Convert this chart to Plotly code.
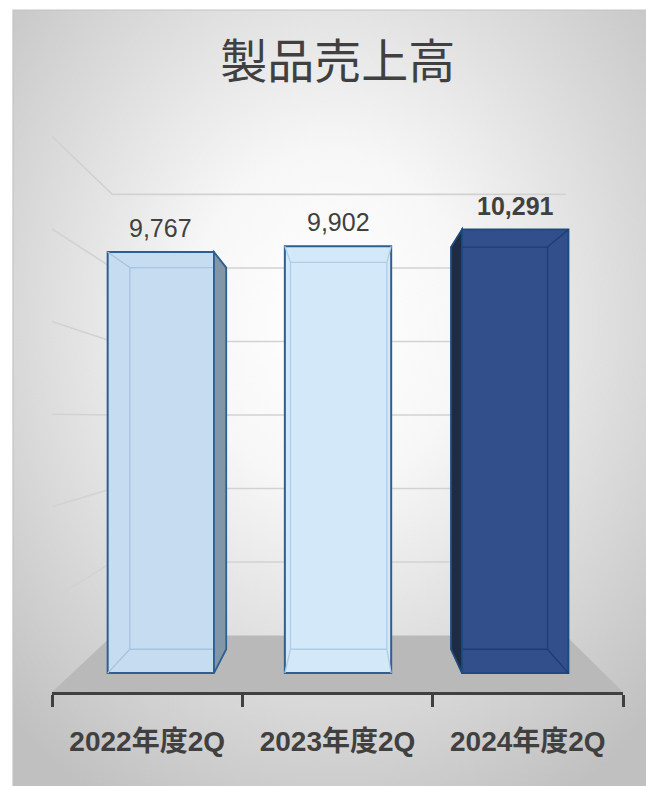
import base64
import plotly.graph_objects as go

# ---------------- data ----------------
categories = ["2022年度2Q", "2023年度2Q", "2024年度2Q"]
values = [9767, 9902, 10291]
value_labels = ["9,767", "9,902", "10,291"]
label_bold = [False, False, True]
grid_values = [2000, 4000, 6000, 8000, 10000, 12000]
title_text = "製品売上高"

# ---------------- styling / perspective model ----------------
W, H = 646, 786
VX, VY = 345.0, 418.0          # vanishing point (px)
X_LEFT, X_RIGHT = 52.0, 623.0  # front edge of the floor (px)
Y_ZERO = 692.0                 # front edge of floor = value 0 (px)
K = 46.3 / 1000.0              # px per value unit at depth scale 1
S_FRONT, S_BACK, S_WALL = 0.931, 0.844, 0.794
BAR_W = 0.6
N = len(categories)
CW = (X_RIGHT - X_LEFT) / N

face_colors = ["#c6ddf1", "#d3e8f8", "#324f8b"]
edge_colors = ["#2f5f8f", "#2f5f8f", "#1f4a80"]
inner_colors = ["#a6c4e0", "#aecde6", "#1d3c76"]
side_colors = ["#8196a6", "#8196a6", "#1f2b44"]
TXT = "#404040"
NARROW = "Liberation Sans Narrow, Arial Narrow, Liberation Sans, Noto Sans CJK JP, sans-serif"


def proj(c, v, s):
    x1 = X_LEFT + (c + 0.5) * CW
    y1 = Y_ZERO - v * K
    return VX + (x1 - VX) * s, VY + (y1 - VY) * s


def pp(pt):
    return f"{pt[0] / W:.5f},{1 - pt[1] / H:.5f}"


def poly(pts, close=True):
    d = "M " + " L ".join(pp(p) for p in pts)
    return d + (" Z" if close else "")


shapes = []

# panel background (gradient image below) + border
svg = (
    '<svg xmlns="http://www.w3.org/2000/svg" width="640" height="780">'
    '<defs><radialGradient id="g" cx="0.5" cy="0.4" r="0.72">'
    '<stop offset="0" stop-color="#ffffff"/>'
    '<stop offset="0.3" stop-color="#f7f7f7"/>'
    '<stop offset="1" stop-color="#c0c0c0"/>'
    '</radialGradient></defs>'
    '<rect width="640" height="780" fill="url(#g)"/></svg>'
)
svg_uri = "data:image/svg+xml;base64," + base64.b64encode(svg.encode()).decode()
PX0, PY0 = 13.0, 10.0
images = [dict(source=svg_uri, xref="paper", yref="paper",
               x=PX0 / W, y=1 - PY0 / H, sizex=(W - PX0) / W, sizey=(H - PY0) / H,
               xanchor="left", yanchor="top", sizing="stretch", layer="below")]
shapes.append(dict(type="rect", xref="paper", yref="paper", layer="below",
                   x0=PX0 / W, x1=1.02, y0=-0.02, y1=1 - PY0 / H,
                   line=dict(color="#c4c4c4", width=1.2), fillcolor="rgba(0,0,0,0)"))

# floor
floor = [proj(-0.5, 0, 1), proj(N - 0.5, 0, 1), proj(N - 0.5, 0, S_WALL), proj(-0.5, 0, S_WALL)]
shapes.append(dict(type="path", xref="paper", yref="paper", layer="below",
                   path=poly(floor), fillcolor="#b9b9b9", line=dict(width=0)))

# gridlines on back wall and left wall
for v in grid_values:
    a = proj(-0.5, v, 1)
    b = proj(-0.5, v, S_WALL)
    c = proj(N - 0.5, v, S_WALL)
    shapes.append(dict(type="path", xref="paper", yref="paper", layer="below",
                       path=poly([a, b, c], close=False),
                       line=dict(color="#d2d2d2", width=1.6)))

# bar depth details
above = []
for i, v in enumerate(values):
    l, r = i - BAR_W / 2, i + BAR_W / 2
    fl_t, fr_t = proj(l, v, S_FRONT), proj(r, v, S_FRONT)
    fl_b, fr_b = proj(l, 0, S_FRONT), proj(r, 0, S_FRONT)
    bl_t, br_t = proj(l, v, S_BACK), proj(r, v, S_BACK)
    bl_b, br_b = proj(l, 0, S_BACK), proj(r, 0, S_BACK)
    ic = inner_colors[i]
    for seg in ([bl_t, br_t], [bl_b, br_b], [bl_t, bl_b], [br_t, br_b],
                [fl_t, bl_t], [fr_t, br_t], [fl_b, bl_b], [fr_b, br_b]):
        above.append(dict(type="path", xref="paper", yref="paper", layer="above",
                          path=poly(seg, close=False), line=dict(color=ic, width=1.3)))
    if bl_t[0] < fl_t[0]:
        above.append(dict(type="path", xref="paper", yref="paper", layer="above",
                          path=poly([fl_t, bl_t, bl_b, fl_b]), fillcolor=side_colors[i],
                          line=dict(color=edge_colors[i], width=1.8)))
    if br_t[0] > fr_t[0]:
        above.append(dict(type="path", xref="paper", yref="paper", layer="above",
                          path=poly([fr_t, br_t, br_b, fr_b]), fillcolor=side_colors[i],
                          line=dict(color=edge_colors[i], width=1.8)))
shapes += above

# axis domains
fx0 = proj(-0.5, 0, S_FRONT)[0] / W
fx1 = proj(N - 0.5, 0, S_FRONT)[0] / W


def v_at(py, s):
    y1 = VY + (py - VY) / s
    return (Y_ZERO - y1) / K


fig = go.Figure()
fig.add_trace(go.Bar(
    x=list(range(N)), y=values, width=BAR_W, xaxis="x2", yaxis="y2",
    marker=dict(color=face_colors, line=dict(color=edge_colors, width=2)),
    hoverinfo="skip", showlegend=False,
))
fig.add_trace(go.Scatter(x=[0, N - 1], y=[0, 0], mode="markers",
                         marker=dict(opacity=0), hoverinfo="skip", showlegend=False))

annotations = []
for i, (v, t, b) in enumerate(zip(values, value_labels, label_bold)):
    annotations.append(dict(
        x=i, y=v, xref="x2", yref="y2", text=t, showarrow=False,
        yanchor="bottom", yshift=8,
        font=dict(family=NARROW, size=25, color=TXT, weight="bold" if b else "normal"),
    ))

fig.update_layout(
    width=W, height=H, margin=dict(l=0, r=0, t=0, b=0),
    paper_bgcolor="white", plot_bgcolor="rgba(0,0,0,0)",
    title=dict(text=title_text, x=0.523, xanchor="center", y=1 - 62 / H, yanchor="middle",
               font=dict(family="Noto Sans CJK JP", size=47, color=TXT)),
    xaxis=dict(domain=[X_LEFT / W, X_RIGHT / W], range=[-0.5, N - 0.5], anchor="y",
               showline=True, linecolor="#404040", linewidth=3, showgrid=False, zeroline=False,
               tickmode="array", tickvals=list(range(N)), ticktext=categories, ticks="",
               ticklabelstandoff=22,
               tickfont=dict(family=NARROW, size=28, color=TXT, weight="bold"),
               minor=dict(tickmode="array", tickvals=[k - 0.5 for k in range(N + 1)],
                          ticks="outside", ticklen=12, tickwidth=3, tickcolor="#404040",
                          showgrid=False),
               fixedrange=True),
    yaxis=dict(domain=[1 - Y_ZERO / H, 1], range=[0, 1], visible=False, fixedrange=True),
    xaxis2=dict(domain=[fx0, fx1], range=[-0.5, N - 0.5], anchor="y2", visible=False,
                fixedrange=True),
    yaxis2=dict(domain=[0, 1], range=[v_at(H, S_FRONT), v_at(0, S_FRONT)], anchor="x2",
                visible=False, fixedrange=True),
    shapes=shapes, images=images, annotations=annotations,
    hovermode=False, showlegend=False,
)

fig.write_html("out.html", config=dict(displayModeBar=False))
